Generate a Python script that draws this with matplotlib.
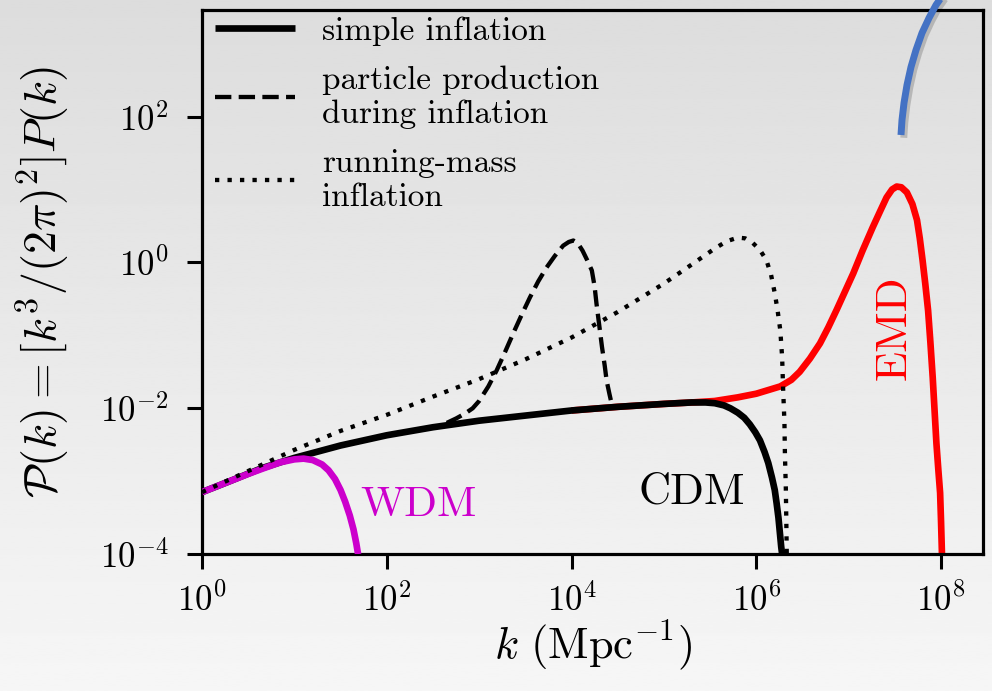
import numpy as np
import matplotlib
matplotlib.use("Agg")
import matplotlib.pyplot as plt
import matplotlib.patheffects as pe

plt.rcParams["font.family"] = "serif"
plt.rcParams["font.serif"] = ["cmr10"]
plt.rcParams["mathtext.fontset"] = "cm"
plt.rcParams["axes.formatter.use_mathtext"] = True
plt.rcParams["axes.unicode_minus"] = True

# log10 k and log10 P(k)
simple_logk = [0.0, 0.28, 0.65, 1.0, 1.5, 2.0, 2.5, 3.0, 3.5, 4.0, 4.5, 5.0,
               5.3, 5.45, 5.55, 5.65, 5.72, 5.8, 5.87, 5.93, 5.99, 6.04, 6.09,
               6.13, 6.17, 6.2, 6.22, 6.24, 6.255, 6.27, 6.28]
simple_logp = [-3.15, -3.01, -2.82, -2.68, -2.51, -2.37, -2.26, -2.17, -2.10,
               -2.03, -1.98, -1.94, -1.92, -1.92, -1.93, -1.96, -2.00, -2.06,
               -2.13, -2.22, -2.33, -2.44, -2.60, -2.75, -2.95, -3.12, -3.30,
               -3.50, -3.70, -3.90, -4.0]

wdm_logk = [0.0, 0.28, 0.5, 0.65, 0.85, 1.0, 1.1, 1.2, 1.3, 1.37, 1.44, 1.5,
            1.55, 1.6, 1.64, 1.67, 1.69]
wdm_logp = [-3.15, -3.01, -2.90, -2.83, -2.74, -2.70, -2.69, -2.71, -2.77,
            -2.85, -2.97, -3.12, -3.28, -3.47, -3.66, -3.85, -4.0]

emd_logk = [4.0, 4.5, 5.0, 5.3, 5.55, 5.8, 6.0, 6.26, 6.38, 6.47, 6.58, 6.69,
            6.78, 6.87, 6.96, 7.05, 7.15, 7.26, 7.34, 7.41, 7.47, 7.52, 7.57,
            7.63, 7.69, 7.74, 7.77, 7.80, 7.83, 7.86, 7.885, 7.91, 7.93, 7.95,
            7.97, 7.99, 8.0, 8.01]
emd_logp = [-2.03, -1.98, -1.94, -1.92, -1.90, -1.85, -1.80, -1.70, -1.61,
            -1.50, -1.32, -1.11, -0.89, -0.65, -0.40, -0.15, 0.16, 0.48, 0.70,
            0.89, 1.00, 1.04, 1.03, 0.96, 0.80, 0.58, 0.33, 0.03, -0.30,
            -0.66, -1.10, -1.58, -2.03, -2.48, -2.83, -3.16, -3.55, -4.0]

pp_logk = [2.65, 2.75, 2.85, 2.93, 3.0, 3.1, 3.19, 3.28, 3.37, 3.46, 3.55,
           3.64, 3.73, 3.82, 3.91, 3.97, 4.02, 4.07, 4.12, 4.17, 4.22, 4.25,
           4.27, 4.30, 4.33, 4.36, 4.38, 4.41, 4.44]
pp_logp = [-2.20, -2.14, -2.07, -2.00, -1.90, -1.70, -1.48, -1.23, -0.97,
           -0.72, -0.48, -0.26, -0.07, 0.09, 0.23, 0.28, 0.30, 0.26, 0.16,
           0.03, -0.11, -0.33, -0.56, -0.86, -1.16, -1.42, -1.62, -1.80,
           -1.97]

rm_logk = [0.0, 0.5, 1.0, 1.5, 2.0, 2.5, 3.0, 3.5, 4.0, 4.5, 5.0, 5.3, 5.55,
           5.68, 5.8, 5.88, 5.96, 6.04, 6.11, 6.16, 6.2, 6.23, 6.26, 6.28,
           6.29, 6.305, 6.31, 6.32, 6.325, 6.33]
rm_logp = [-3.15, -2.86, -2.57, -2.31, -2.09, -1.84, -1.60, -1.33, -1.03,
           -0.68, -0.29, -0.03, 0.19, 0.29, 0.34, 0.33, 0.27, 0.17, 0.03,
           -0.17, -0.42, -0.65, -0.93, -1.30, -1.71, -2.20, -2.62, -3.10,
           -3.53, -4.0]

labels = ["simple inflation", "particle production\nduring inflation",
          "running-mass\ninflation"]


def pw(a):
    return 10.0 ** np.asarray(a)


fig = plt.figure(figsize=(9.92, 6.91), dpi=100)

# soft grey backdrop, darker at the top
bg = fig.add_axes([0, 0, 1, 1], zorder=-10)
grad = np.linspace(0.865, 0.965, 256).reshape(-1, 1)
bg.imshow(grad, cmap="gray", vmin=0, vmax=1, aspect="auto",
          extent=[0, 1, 0, 1], origin="upper")
bg.set_axis_off()

ax = fig.add_axes([0.2036, 0.198, 0.7874, 0.7875])
ax.set_facecolor("none")

ax.plot(pw(emd_logk), pw(emd_logp), color="#ff0000", lw=4.8,
        solid_capstyle="butt", zorder=2)
ax.plot(pw(simple_logk), pw(simple_logp), color="black", lw=4.8,
        label=labels[0], solid_capstyle="butt", zorder=3)
ax.plot(pw(wdm_logk), pw(wdm_logp), color="#cc00cc", lw=4.8,
        solid_capstyle="butt", zorder=4)
ax.plot(pw(pp_logk), pw(pp_logp), color="black", lw=3.1,
        ls=(0, (3.8, 1.7)), label=labels[1], zorder=5)
ax.plot(pw(rm_logk), pw(rm_logp), color="black", lw=3.1,
        ls=(0, (1, 1.9)), label=labels[2], zorder=5)

ax.set_xscale("log")
ax.set_yscale("log")
ax.set_xlim(1, 10 ** 8.455)
ax.set_ylim(1e-4, 10 ** 3.46)
ax.set_xticks([1, 1e2, 1e4, 1e6, 1e8])
ax.set_yticks([1e-4, 1e-2, 1, 1e2])
ax.minorticks_off()
ax.tick_params(length=11, width=2.2, labelsize=25)
ax.tick_params(axis="x", pad=10)
ax.tick_params(axis="y", pad=13)
for s in ax.spines.values():
    s.set_linewidth(2.3)

ax.set_xlabel(r"$k\ (\mathrm{Mpc}^{-1})$", fontsize=32, labelpad=0)
ax.set_ylabel(r"$\mathcal{P}(k) = [k^3/(2\pi)^2]P(k)$", fontsize=33,
              labelpad=20)

ax.text(10 ** 2.34, 10 ** -3.33, "WDM", color="#cc00cc", fontsize=31,
        ha="center", va="center")
ax.text(10 ** 5.30, 10 ** -3.15, "CDM", color="black", fontsize=32,
        ha="center", va="center")
ax.text(10 ** 7.5, 10 ** -0.89, "EMD", color="#ff0000", fontsize=32,
        ha="center", va="center", rotation=90)

ax.legend(loc="upper left", bbox_to_anchor=(0.009, 1.0), frameon=False,
          fontsize=24, handlelength=2.4, borderaxespad=0.0, borderpad=0.18,
          labelspacing=0.6, handletextpad=0.8)

# blue pointer arc coming in from the top edge
arc_px = np.array([943, 936, 929, 922, 916, 911, 907, 904, 902, 901])
arc_py = np.array([-5, 5, 18, 33, 50, 67, 85, 103, 120, 135])
fig.add_artist(plt.Line2D(arc_px / 992, 1 - arc_py / 691, color="#4472c4",
                          lw=5, solid_capstyle="butt", zorder=20,
                          path_effects=[pe.SimpleLineShadow(offset=(2, -2),
                                                            alpha=0.18),
                                        pe.Normal()]))

fig.savefig("out.png", dpi=100)
